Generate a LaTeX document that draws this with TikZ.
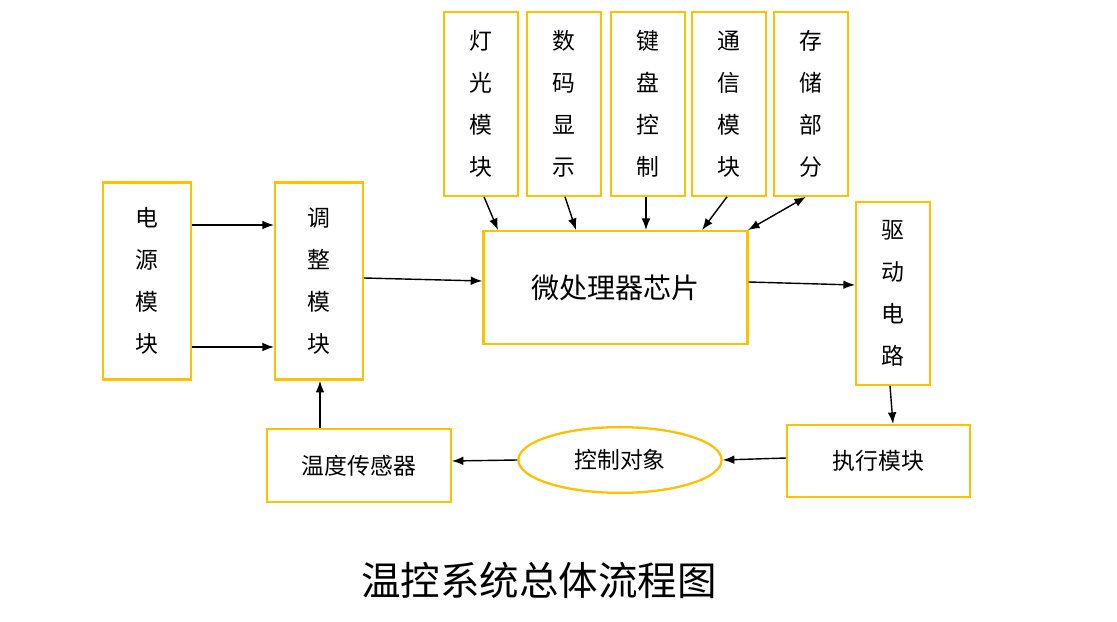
\documentclass[tikz,border=0pt]{standalone}
\usepackage{fontspec}
\setmainfont{Noto Sans CJK SC}
\usetikzlibrary{positioning, arrows.meta, shapes.geometric}
\tikzset{
  blk/.style={draw=boxgold, line width=1.3pt, inner sep=0pt, font=\fontsize{13}{24}\selectfont, align=center},
  arr/.style={-Latex, line width=0.8pt}
}
\definecolor{boxgold}{HTML}{FFC000}
\begin{document}
\begin{tikzpicture}[x=0.02cm, y=-0.02cm]
	\useasboundingbox (0,0) rectangle (1117,622);
	% Boxes
	\node[blk, minimum width=88*0.567pt, minimum height=198*0.567pt] (pwr) at (147,281) {电\\源\\模\\块};
	\node[blk, minimum width=88*0.567pt, minimum height=198*0.567pt] (adj) at (319,281) {调\\整\\模\\块};
	\node[blk, minimum width=74*0.567pt, minimum height=184*0.567pt] (lamp) at (481,104) {灯\\光\\模\\块};
	\node[blk, minimum width=74*0.567pt, minimum height=184*0.567pt] (disp) at (564,104) {数\\码\\显\\示};
	\node[blk, minimum width=74*0.567pt, minimum height=184*0.567pt] (key) at (648,104) {键\\盘\\控\\制};
	\node[blk, minimum width=74*0.567pt, minimum height=184*0.567pt] (com) at (729,104) {通\\信\\模\\块};
	\node[blk, minimum width=74*0.567pt, minimum height=184*0.567pt] (mem) at (811,104) {存\\储\\部\\分};
	\node[blk, minimum width=265*0.567pt, minimum height=113*0.567pt, font=\fontsize{16}{20}\selectfont] (mcu) at (615.5,287.5) {微处理器芯片};
	\node[blk, minimum width=74*0.567pt, minimum height=183*0.567pt] (drv) at (893,293.5) {驱\\动\\电\\路};
	\node[blk, minimum width=183*0.567pt, minimum height=72*0.567pt] (act) at (878.5,461) {执行模块};
	\node[blk, ellipse, minimum width=204*0.567pt, minimum height=66*0.567pt] (obj) at (620,460) {控制对象};
	\node[blk, minimum width=184*0.567pt, minimum height=73*0.567pt] (sen) at (359,465.5) {温度传感器};
	\node[font=\fontsize{22.5}{26}\selectfont] (title) at (539,580) {温控系统总体流程图};
	% Connectors
	\draw[arr] (pwr.east |- 0,225) -- (adj.west |- 0,225);
	\draw[arr] (pwr.east |- 0,347) -- (adj.west |- 0,347);
	\draw[arr] (adj.east |- 0,278) -- (mcu.west |- 0,281);
	\draw[arr] (mcu.east |- 0,282) -- (drv.west |- 0,285);
	\draw[arr] (lamp.south -| 484,0) -- (mcu.north -| 498,0);
	\draw[arr] (disp.south -| 565,0) -- (mcu.north -| 576,0);
	\draw[arr] (key.south -| 646,0) -- (mcu.north -| 646,0);
	\draw[arr] (com.south -| 727,0) -- (mcu.north -| 702,0);
	\draw[arr, Latex-Latex] (mem.south -| 806,0) -- (mcu.north -| 748,0);
	\draw[arr] (drv.south -| 890,0) -- (act.north -| 893,0);
	\draw[arr] (act.west |- 0,458) -- (obj.east);
	\draw[arr] (obj.west) -- (sen.east |- 0,461);
	\draw[arr] (sen.north -| 320,0) -- (adj.south -| 320,0);
\end{tikzpicture}
\end{document}
